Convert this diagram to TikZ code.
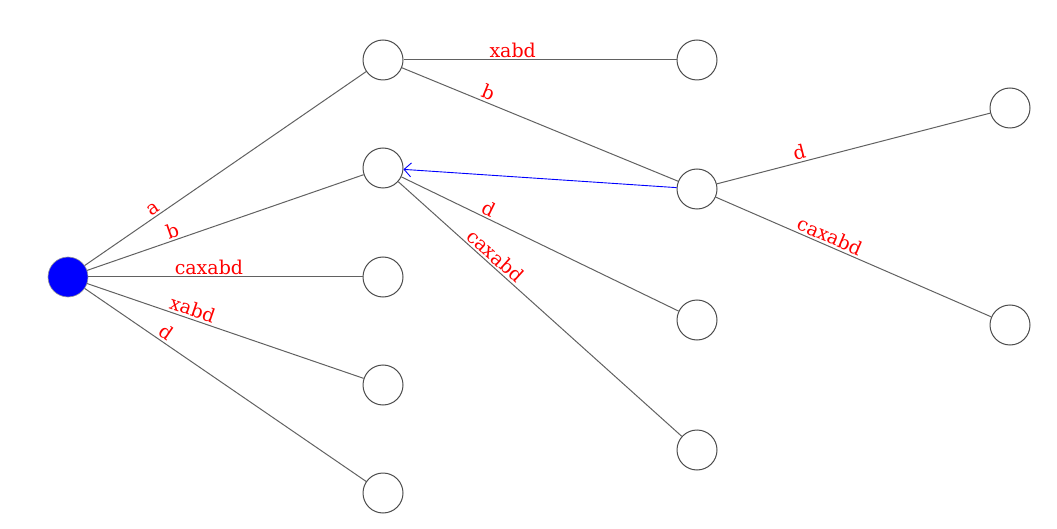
\documentclass[tikz,border=0pt]{standalone}
\usepackage{fontspec}
\setmainfont{DejaVu Serif}
\usetikzlibrary{arrows.meta}
\begin{document}
\begin{tikzpicture}[x=1pt,y=-1pt,
  st/.style={circle,draw=black!70,line width=1pt,minimum size=40pt,inner sep=0pt,fill=white},
  rootst/.style={circle,draw=black!40,line width=0.6pt,minimum size=40pt,inner sep=0pt,fill=blue},
  ed/.style={draw=black!62,line width=1pt},
  lb/.style={text=red,font=\fontsize{19}{22}\selectfont,sloped,above,inner sep=2pt},
  sl/.style={draw=blue,line width=0.9pt,-{Straight Barb[length=7pt,width=14pt]}}]
\useasboundingbox (0,0) rectangle (1057,529);
\node[rootst] (r) at (68,277) {};
\node[st] (a) at (383,60) {};
\node[st] (b) at (383,168) {};
\node[st] (c) at (383,277) {};
\node[st] (d) at (383,385) {};
\node[st] (e) at (383,493) {};
\node[st] (f) at (697,60) {};
\node[st] (g) at (697,189) {};
\node[st] (h) at (697,320) {};
\node[st] (i) at (697,450) {};
\node[st] (j) at (1010,108) {};
\node[st] (k) at (1010,325) {};
\path[ed] (r) -- node[lb,pos=0.26] {a} (a);
\path[ed] (r) -- node[lb,pos=0.32] {b} (b);
\path[ed] (r) -- node[lb,pos=0.44] {caxabd} (c);
\path[ed] (r) -- node[lb,pos=0.37] {xabd} (d);
\path[ed] (r) -- node[lb,pos=0.27] {d} (e);
\path[ed] (a) -- node[lb,pos=0.40] {xabd} (f);
\path[ed] (a) -- node[lb,pos=0.30] {b} (g);
\path[ed] (g) -- node[lb,pos=0.31] {d} (j);
\path[ed] (g) -- node[lb,pos=0.40] {caxabd} (k);
\path[ed] (b) -- node[lb,pos=0.30] {d} (h);
\path[ed] (b) -- node[lb,pos=0.32] {caxabd} (i);
\draw[sl] (g) -- (b);
\end{tikzpicture}
\end{document}
